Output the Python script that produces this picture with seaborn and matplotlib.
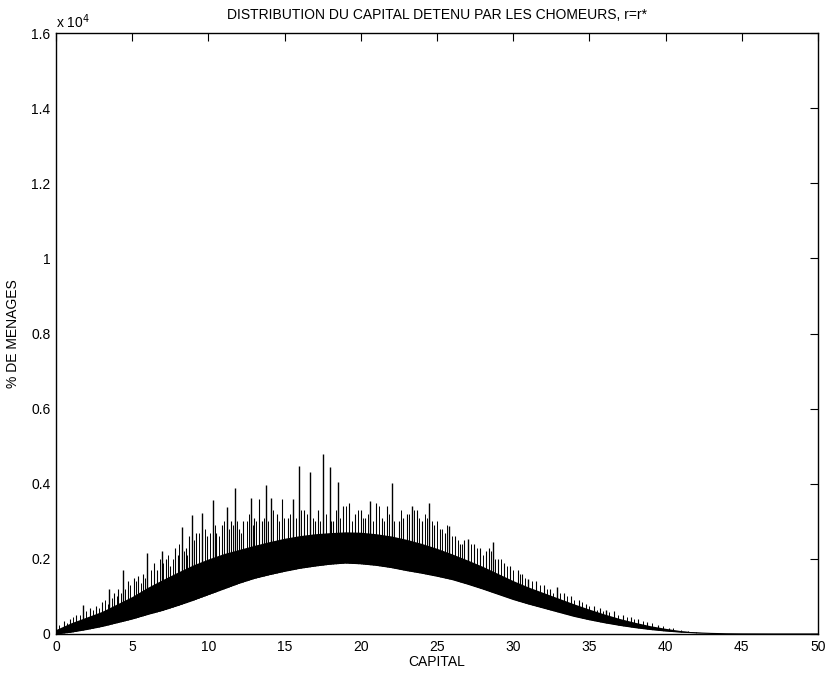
import numpy as np
import matplotlib
matplotlib.use("Agg")
import matplotlib.pyplot as plt
import seaborn as sns

SCALE = 1e4

# capital grid and envelopes of the distribution (in units of 10^4 households)
capital = [0, 1, 2, 3, 4, 5, 6, 7, 8, 9, 10, 11, 12, 13, 14, 15, 16, 17, 18, 19, 20,
           21, 22, 23, 24, 25, 26, 27, 28, 29, 30, 31, 32, 33, 34, 35, 36, 37, 38, 39, 40,
           41, 42, 43, 44, 45, 46, 47, 48, 49, 50]
lower = [0, 0.005, 0.012, 0.02, 0.03, 0.04, 0.052, 0.063, 0.076, 0.09, 0.105,
         0.12, 0.135, 0.148, 0.158, 0.167, 0.175, 0.181, 0.186, 0.189, 0.187,
         0.183, 0.177, 0.169, 0.162, 0.154, 0.145, 0.133, 0.12, 0.106, 0.092,
         0.08, 0.069, 0.058, 0.047, 0.038, 0.03, 0.023, 0.017, 0.012, 0.008,
         0.005, 0.003, 0.0015, 0.0006, 0.0002, 0.0001, 0, 0, 0, 0]
upper = [0.012, 0.03, 0.045, 0.06, 0.08, 0.1, 0.124, 0.145, 0.165, 0.184, 0.2,
         0.214, 0.225, 0.236, 0.246, 0.255, 0.262, 0.267, 0.27, 0.272, 0.271,
         0.267, 0.261, 0.252, 0.241, 0.228, 0.213, 0.197, 0.18, 0.161, 0.142,
         0.125, 0.11, 0.095, 0.08, 0.066, 0.053, 0.041, 0.031, 0.022, 0.015,
         0.009, 0.005, 0.002, 0.001, 0.0004, 0, 0, 0, 0, 0]

# tallest peaks
peak_x = [1.8, 3.5, 4.37, 6.0, 6.93, 8.25, 8.9, 9.6, 10.28, 11.2, 11.75, 12.77,
          13.76, 14.1, 15.57, 15.94, 16.67, 17.5, 17.98, 18.53, 20.6, 22.03,
          23.34, 24.48, 25.8, 27.06, 28.65, 31.0, 32.9, 36.1]
peak_y = [0.076, 0.12, 0.171, 0.216, 0.222, 0.284, 0.316, 0.323, 0.358, 0.338,
          0.388, 0.362, 0.398, 0.363, 0.36, 0.447, 0.431, 0.478, 0.444, 0.406,
          0.355, 0.402, 0.34, 0.348, 0.287, 0.253, 0.245, 0.147, 0.126, 0.065]

# smaller peaks along the top of the band
ridge_x = [0.5, 0.9, 1.3, 2.2, 2.6, 3.0, 3.8, 4.1, 4.7, 5.1, 5.4, 5.7, 6.4, 6.6,
           7.2, 7.5, 7.8, 8.0, 8.5, 8.7, 9.2, 9.9, 10.5, 10.9, 11.5, 12.0, 12.3,
           13.0, 13.3, 13.5, 14.5, 14.8, 15.2, 16.3, 17.0, 17.2, 18.2, 18.8, 19.2,
           19.6, 20.0, 20.3, 21.0, 21.4, 21.7, 22.5, 22.8, 23.0, 23.7, 24.0, 24.8,
           25.2, 25.5, 26.2, 26.5, 26.8, 27.4, 27.8, 28.2, 28.4, 29.0, 29.4, 29.8,
           30.3, 30.6, 31.5, 32.0, 32.4, 33.3, 33.8, 34.3, 34.8, 35.3, 35.7, 36.6,
           37.2, 37.7, 38.2, 38.8, 39.5, 40.2, 41.0]
ridge_y = [0.035, 0.04, 0.05, 0.07, 0.075, 0.085, 0.11, 0.12, 0.14, 0.15, 0.155,
           0.16, 0.19, 0.17, 0.2, 0.18, 0.23, 0.21, 0.23, 0.26, 0.27, 0.26, 0.27,
           0.29, 0.3, 0.28, 0.3, 0.31, 0.36, 0.3, 0.32, 0.36, 0.31, 0.33, 0.3,
           0.33, 0.3, 0.34, 0.35, 0.32, 0.33, 0.31, 0.35, 0.31, 0.34, 0.3, 0.31,
           0.32, 0.33, 0.3, 0.29, 0.28, 0.27, 0.26, 0.24, 0.25, 0.24, 0.23, 0.22,
           0.23, 0.2, 0.19, 0.18, 0.17, 0.16, 0.14, 0.13, 0.12, 0.11, 0.1, 0.09,
           0.08, 0.075, 0.07, 0.06, 0.05, 0.045, 0.04, 0.032, 0.025, 0.016, 0.01]

# fine ragged edge between the larger peaks
edge_x = [0.2, 0.7, 1.1, 1.6, 2.0, 2.4, 2.8, 3.2, 3.4, 3.65, 4.0, 4.25, 4.55, 4.85,
          5.25, 5.55, 5.85, 6.2, 6.8, 7.05, 7.35, 7.65, 8.1, 8.4, 8.6, 9.05, 9.35,
          9.75, 10.1, 10.4, 10.7, 11.05, 11.35, 11.6, 11.9, 12.15, 12.5, 12.65,
          12.9, 13.15, 13.65, 13.9, 14.25, 14.65, 14.95, 15.35, 15.75, 16.1,
          16.45, 16.85, 17.35, 17.7, 18.05, 18.35, 18.65, 19.0, 19.4, 19.8,
          20.15, 20.45, 20.8, 21.2, 21.55, 21.85, 22.2, 22.65, 23.15, 23.5,
          23.85, 24.2, 24.35, 24.65, 25.0, 25.35, 25.65, 26.0, 26.35, 26.65,
          27.2, 27.6, 28.0, 28.55, 28.8, 29.2, 29.6, 30.0, 30.45, 30.8, 31.2,
          31.75, 32.2, 32.6, 33.05, 33.5, 34.0, 34.5, 35.0, 35.5, 35.9, 36.3,
          36.9, 37.45, 37.9, 38.5, 39.1, 39.8, 40.5, 41.5, 42.0]
edge_y = [0.025, 0.03, 0.045, 0.05, 0.06, 0.065, 0.07, 0.09, 0.08, 0.095, 0.1,
          0.11, 0.12, 0.13, 0.14, 0.135, 0.15, 0.17, 0.2, 0.19, 0.21, 0.2, 0.24,
          0.22, 0.21, 0.25, 0.27, 0.28, 0.27, 0.29, 0.26, 0.3, 0.28, 0.29, 0.3,
          0.27, 0.3, 0.32, 0.29, 0.3, 0.31, 0.3, 0.33, 0.3, 0.31, 0.32, 0.31,
          0.33, 0.32, 0.31, 0.3, 0.32, 0.3, 0.33, 0.31, 0.34, 0.3, 0.33, 0.31,
          0.32, 0.3, 0.34, 0.3, 0.32, 0.3, 0.33, 0.32, 0.33, 0.31, 0.32, 0.31,
          0.3, 0.3, 0.28, 0.29, 0.26, 0.25, 0.24, 0.24, 0.23, 0.21, 0.22, 0.2,
          0.2, 0.18, 0.17, 0.16, 0.15, 0.14, 0.13, 0.12, 0.11, 0.11, 0.1, 0.09,
          0.085, 0.075, 0.065, 0.06, 0.058, 0.05, 0.045, 0.04, 0.035, 0.028,
          0.02, 0.015, 0.008, 0.006]

yticks = [0, 0.2, 0.4, 0.6, 0.8, 1.0, 1.2, 1.4, 1.6]
ytick_labels = ['0', '0.2', '0.4', '0.6', '0.8', '1', '1.2', '1.4', '1.6']
xticks = [0, 5, 10, 15, 20, 25, 30, 35, 40, 45, 50]

sns.set_style("white")
plt.rcParams['font.family'] = ['Liberation Sans', 'DejaVu Sans']
plt.rcParams['font.size'] = 10
plt.rcParams['text.color'] = 'black'
plt.rcParams['axes.labelcolor'] = 'black'
plt.rcParams['xtick.color'] = 'black'
plt.rcParams['ytick.color'] = 'black'

fig = plt.figure(figsize=(8.31, 6.82), dpi=100)
ax = fig.add_axes([0.0674, 0.0704, 0.917, 0.881])

cap = np.array(capital)
lo = np.array(lower) * SCALE
up = np.array(upper) * SCALE

# spikes, then the dense band, then blank out the area below the lower edge
ax.vlines(peak_x, 0, np.array(peak_y) * SCALE, color='k', lw=1.0, zorder=2)
ax.vlines(ridge_x, 0, np.array(ridge_y) * SCALE, color='k', lw=0.8, zorder=2)
ax.vlines(edge_x, 0, np.array(edge_y) * SCALE, color='k', lw=0.7, zorder=2)
ax.fill_between(cap, lo, up, color='k', lw=0, zorder=2)
ax.fill_between(cap, 0, lo, color='white', lw=0, zorder=3)
sns.lineplot(x=cap, y=lo, ax=ax, color='k', lw=0.8, zorder=4)

ax.set_xlim(0, 50)
ax.set_ylim(0, 1.6 * SCALE)
ax.set_xticks(xticks)
ax.set_xticklabels([str(t) for t in xticks])
ax.set_yticks([t * SCALE for t in yticks])
ax.set_yticklabels(ytick_labels)
ax.tick_params(direction='in', length=6, width=0.8, top=True, right=True,
               labelsize=10, pad=4, color='k')
for s in ax.spines.values():
    s.set_visible(True)
    s.set_color('k')
    s.set_linewidth(1.0)
    s.set_zorder(5)

ax.set_title("DISTRIBUTION DU CAPITAL DETENU PAR LES CHOMEURS, r=r*",
             fontsize=10, pad=10, color='black')
ax.set_xlabel("CAPITAL", fontsize=10, labelpad=1)
ax.set_ylabel("% DE MENAGES", fontsize=10, labelpad=8)
ax.text(0, 1.004, r'x 10$^4$', transform=ax.transAxes, ha='left', va='bottom',
        fontsize=10)

fig.savefig("out.png", dpi=100)
